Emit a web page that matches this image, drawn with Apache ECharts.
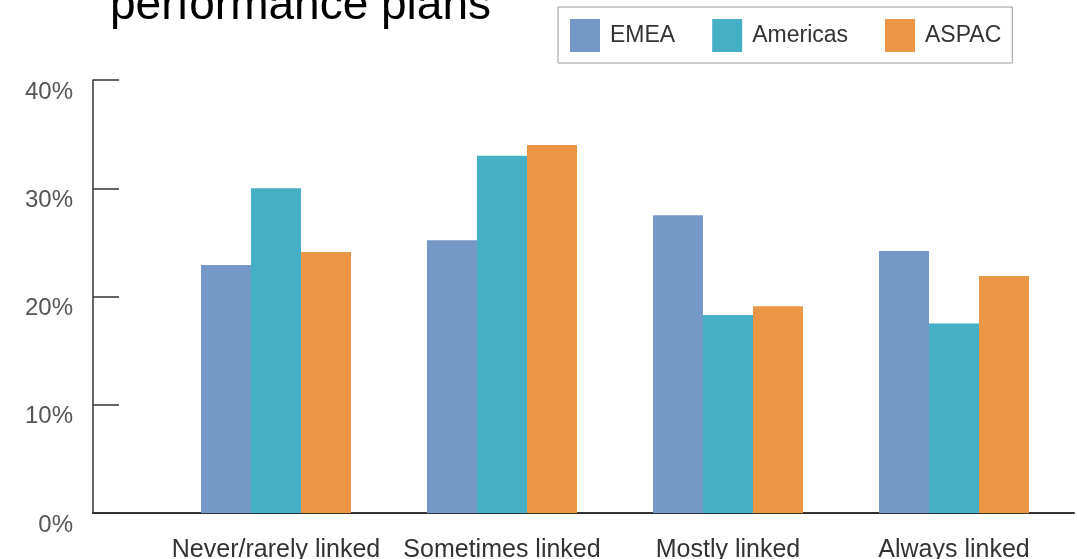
<!DOCTYPE html>
<html>
<head>
<meta charset="utf-8">
<script src="https://cdn.jsdelivr.net/npm/echarts@6/dist/echarts.min.js"></script>
<style>
  html, body { margin: 0; padding: 0; background: #fff; }
  #chart { width: 1077px; height: 559px; }
</style>
</head>
<body>
<div id="chart"></div>
<script>
// categories and values (percent)
const categories = ['Never/rarely linked', 'Sometimes linked', 'Mostly linked', 'Always linked']
const regions = ['EMEA', 'Americas', 'ASPAC']
const emea = [22.9, 25.2, 27.5, 24.2]
const americas = [30.0, 33.0, 18.3, 17.5]
const aspac = [24.1, 34.0, 19.1, 21.9]
const yTicks = [0, 10, 20, 30, 40]

const colors = ['#7499c6', '#45afc6', '#ea9644']
const font = 'Liberation Sans'

const chart = echarts.init(document.getElementById('chart'), null, { renderer: 'canvas' })

const option = {
  animation: false,
  color: colors,
  textStyle: { fontFamily: font },
  title: {
    text: 'performance plans',
    left: 110,
    top: -17,
    padding: 0,
    textStyle: { fontSize: 46, fontWeight: 'normal', color: '#000', fontFamily: font }
  },
  legend: {
    data: regions,
    left: 558,
    top: 7,
    padding: [12, 11, 11, 12],
    borderColor: '#999',
    borderWidth: 1,
    icon: 'rect',
    itemWidth: 30,
    itemHeight: 33,
    itemGap: 37,
    textStyle: { fontSize: 23, color: '#333', fontFamily: font, padding: [0, 0, 0, 5] }
  },
  grid: [
    // bars
    { left: 163, right: 10, top: 80, bottom: 46, containLabel: false, outerBoundsMode: 'none' },
    // axis frame (y axis + long baseline)
    { left: 93, right: 3, top: 80, bottom: 46, containLabel: false, outerBoundsMode: 'none' }
  ],
  xAxis: [{
    type: 'category',
    gridIndex: 0,
    data: categories,
    axisLine: { show: false },
    axisTick: { show: false },
    axisLabel: { interval: 0, fontSize: 25, color: '#333', margin: 25, fontFamily: font }
  }, {
    type: 'value',
    gridIndex: 1,
    min: 0,
    max: 1,
    axisLine: { show: true, lineStyle: { color: '#333', width: 2 } },
    axisTick: { show: false },
    axisLabel: { show: false },
    splitLine: { show: false }
  }],
  yAxis: [{
    type: 'value',
    gridIndex: 0,
    min: yTicks[0],
    max: yTicks[yTicks.length - 1],
    show: false
  }, {
    type: 'value',
    gridIndex: 1,
    min: yTicks[0],
    max: yTicks[yTicks.length - 1],
    interval: 10,
    axisLine: { show: true, lineStyle: { color: '#333', width: 1.5 } },
    axisTick: { show: true, inside: true, length: 26, lineStyle: { color: '#333', width: 1.5 } },
    axisLabel: {
      formatter: '{value}%',
      fontSize: 24,
      color: '#555',
      margin: 20,
      verticalAlign: 'top',
      fontFamily: font
    },
    splitLine: { show: false }
  }],
  series: [
    { name: regions[0], type: 'bar', data: emea, barWidth: 50, barGap: '0%' },
    { name: regions[1], type: 'bar', data: americas, barWidth: 50, barGap: '0%' },
    { name: regions[2], type: 'bar', data: aspac, barWidth: 50, barGap: '0%' }
  ]
}

chart.setOption(option)
</script>
</body>
</html>
